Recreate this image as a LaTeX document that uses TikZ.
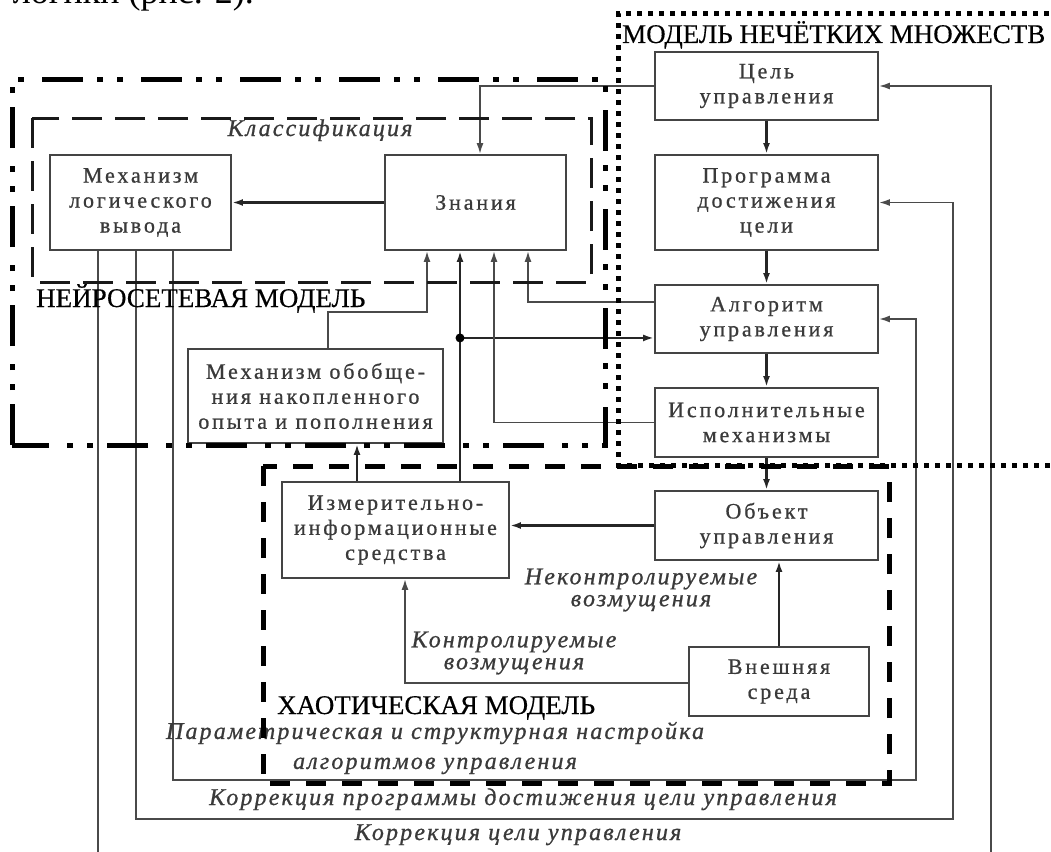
\documentclass[tikz,border=0pt]{standalone}
\usepackage{fontspec}
\setmainfont{Liberation Serif}
\newfontfamily\boxfont[LetterSpace=13,FakeBold=0.8]{Liberation Serif}
\newfontfamily\labfont[LetterSpace=9,FakeBold=0.8]{Liberation Serif}
\newfontfamily\capfont[FakeBold=0.4]{Liberation Serif}
\usetikzlibrary{arrows.meta,calc}
\definecolor{boxc}{HTML}{444444}
\definecolor{txtc}{HTML}{3A3A3A}
\definecolor{linec}{HTML}{4A4A4A}
\tikzset{
  blk/.style={draw=boxc, line width=1.9pt, fill=white, minimum width=223pt, minimum height=68pt,
    align=center, inner sep=0pt, text=txtc, font=\boxfont\fontsize{22}{25}\selectfont},
  conn/.style={draw=linec, line width=1.7pt},
  thk/.style={draw=black!85, line width=2.5pt},
  arr/.style={-{Latex[length=11pt,width=7pt]}},
  lab/.style={inner sep=0pt, text=txtc, align=center, font=\labfont\itshape\fontsize{24}{22}\selectfont},
  capt/.style={inner sep=0pt, text=black, font=\capfont\fontsize{27}{27}\selectfont},
  dashdotS/.style={draw=black, line width=5pt, dash pattern=on 41pt off 14pt on 6pt off 14pt on 6pt off 18pt},
  dotsS/.style={draw=black, line width=5pt, dash pattern=on 5pt off 6pt},
  dashC/.style={draw=black!90, line width=3pt, dash pattern=on 30pt off 13pt},
  dashH/.style={draw=black, line width=5pt, dash pattern=on 20pt off 16pt}
}
\begin{document}
\begin{tikzpicture}[x=1pt,y=-1pt]
\useasboundingbox (0,0) rectangle (1051,851);
\clip (0,0) rectangle (1051,851);
\fill[white] (0,0) rectangle (1051,851);

% fragment of running text above
\node[anchor=base east, inner sep=0pt, font=\fontsize{36}{36}\selectfont] (toptext) at (254,4) {логики (рис. 2).};

% boxes
\node[blk] (goal) at (766.5,86) {Цель\\управления};
\node[blk, minimum height=95pt] (prog) at (766.5,202.5) {Программа\\достижения\\цели};
\node[blk] (alg) at (766.5,319) {Алгоритм\\управления};
\node[blk, minimum height=69pt] (exec) at (766.5,422.5) {Исполнительные\\механизмы};
\node[blk, minimum height=69pt] (obj) at (766.5,525.5) {Объект\\управления};
\node[blk, minimum width=180pt, minimum height=69pt] (env) at (779,681.5) {Внешняя\\среда};
\node[blk, minimum width=227pt, minimum height=96pt] (meas) at (395.5,530) {Измерительно-\\информационные\\средства};
\node[blk, minimum width=255pt, minimum height=94pt] (gen) at (315.5,396) {Механизм обобще-\\ния накопленного\\опыта и пополнения};
\node[blk, minimum width=181pt, minimum height=95pt] (know) at (475.5,202.5) {Знания};
\node[blk, minimum width=181pt, minimum height=95pt] (infer) at (140.5,202.5) {Механизм\\логического\\вывода};

% main chain
\draw[thk, arr] (goal.south) -- (prog.north);
\draw[thk, arr] (prog.south) -- (alg.north);
\draw[thk, arr] (alg.south) -- (exec.north);
\draw[thk, arr] (exec.south) -- (obj.north);
\draw[conn, arr] (goal.west) -| ([xshift=4.5pt]know.north);
\draw[thk, arr] (know.west) -- (infer.east);

% into knowledge
\draw[conn, arr] ([xshift=12.5pt]gen.north) -- ++(0,-36) -| ([xshift=-48.5pt]know.south);
\draw[thk, arr] ([xshift=64.5pt]meas.north) -- ([xshift=-15.5pt]know.south);
\path ([xshift=-15.5pt]know.south) ++(0,87) coordinate (j);
\draw[thk, arr] (j) -- (j -| alg.west);
\fill (j) circle (4.5pt);
\draw[conn, arr] ([yshift=17pt]alg.west) -| ([xshift=52.5pt]know.south);
\draw[conn, arr] (exec.west) -| ([xshift=18.5pt]know.south);
\draw[thk, arr] ([xshift=-38.5pt]meas.north) -- ([xshift=-38.5pt]meas.north |- gen.south);

% lower part
\draw[thk, arr] (obj.west) -- (obj.west -| meas.east);
\draw[thk, arr] (env.north) -- (env.north |- obj.south);
\draw[conn, arr] ([yshift=-1.5pt]env.west) -| ([xshift=9.5pt]meas.south);

% feedback loops
\draw[conn, arr] ([xshift=32.5pt]infer.south) |- (916,780) |- (alg.east);
\draw[conn, arr] ([xshift=-4.5pt]infer.south) |- (953,819) |- (prog.east);
\draw[conn, arr] ([xshift=-42.5pt]infer.south) |- (991,880) |- (goal.east);

% labels
\node[lab, anchor=base] (lcls) at (320,136) {Классификация};
\node[lab] (lunc) at (641,590) {Неконтролируемые\\возмущения};
\node[lab] (lcon) at (514,653) {Контролируемые\\возмущения};
\node[lab, font=\labfont\itshape\fontsize{24}{30}\selectfont] (lpar) at (435,748) {Параметрическая и структурная настройка\\алгоритмов управления};
\node[lab, anchor=base] (lkp) at (523,805) {Коррекция программы достижения цели управления};
\node[lab, anchor=base] (lkc) at (518,840) {Коррекция цели управления};

% region captions
\node[capt, anchor=base west] (cnn) at (36,307) {НЕЙРОСЕТЕВАЯ МОДЕЛЬ};
\node[capt, anchor=base west] (cfz) at (622,43) {МОДЕЛЬ НЕЧЁТКИХ МНОЖЕСТВ};
\node[capt, anchor=base west] (cch) at (277,714) {ХАОТИЧЕСКАЯ МОДЕЛЬ};

% regions
\draw[dashC] (32,118) rectangle (591,282);
\draw[dashdotS] (12,445) -- (12,79) -- (605,79) -- (605,445) -- cycle;
\draw[dotsS] (1060,14) -- (618,14) -- (618,465) -- (1060,465);
\draw[dashH] (263,466) rectangle (889,783);
\end{tikzpicture}
\end{document}
